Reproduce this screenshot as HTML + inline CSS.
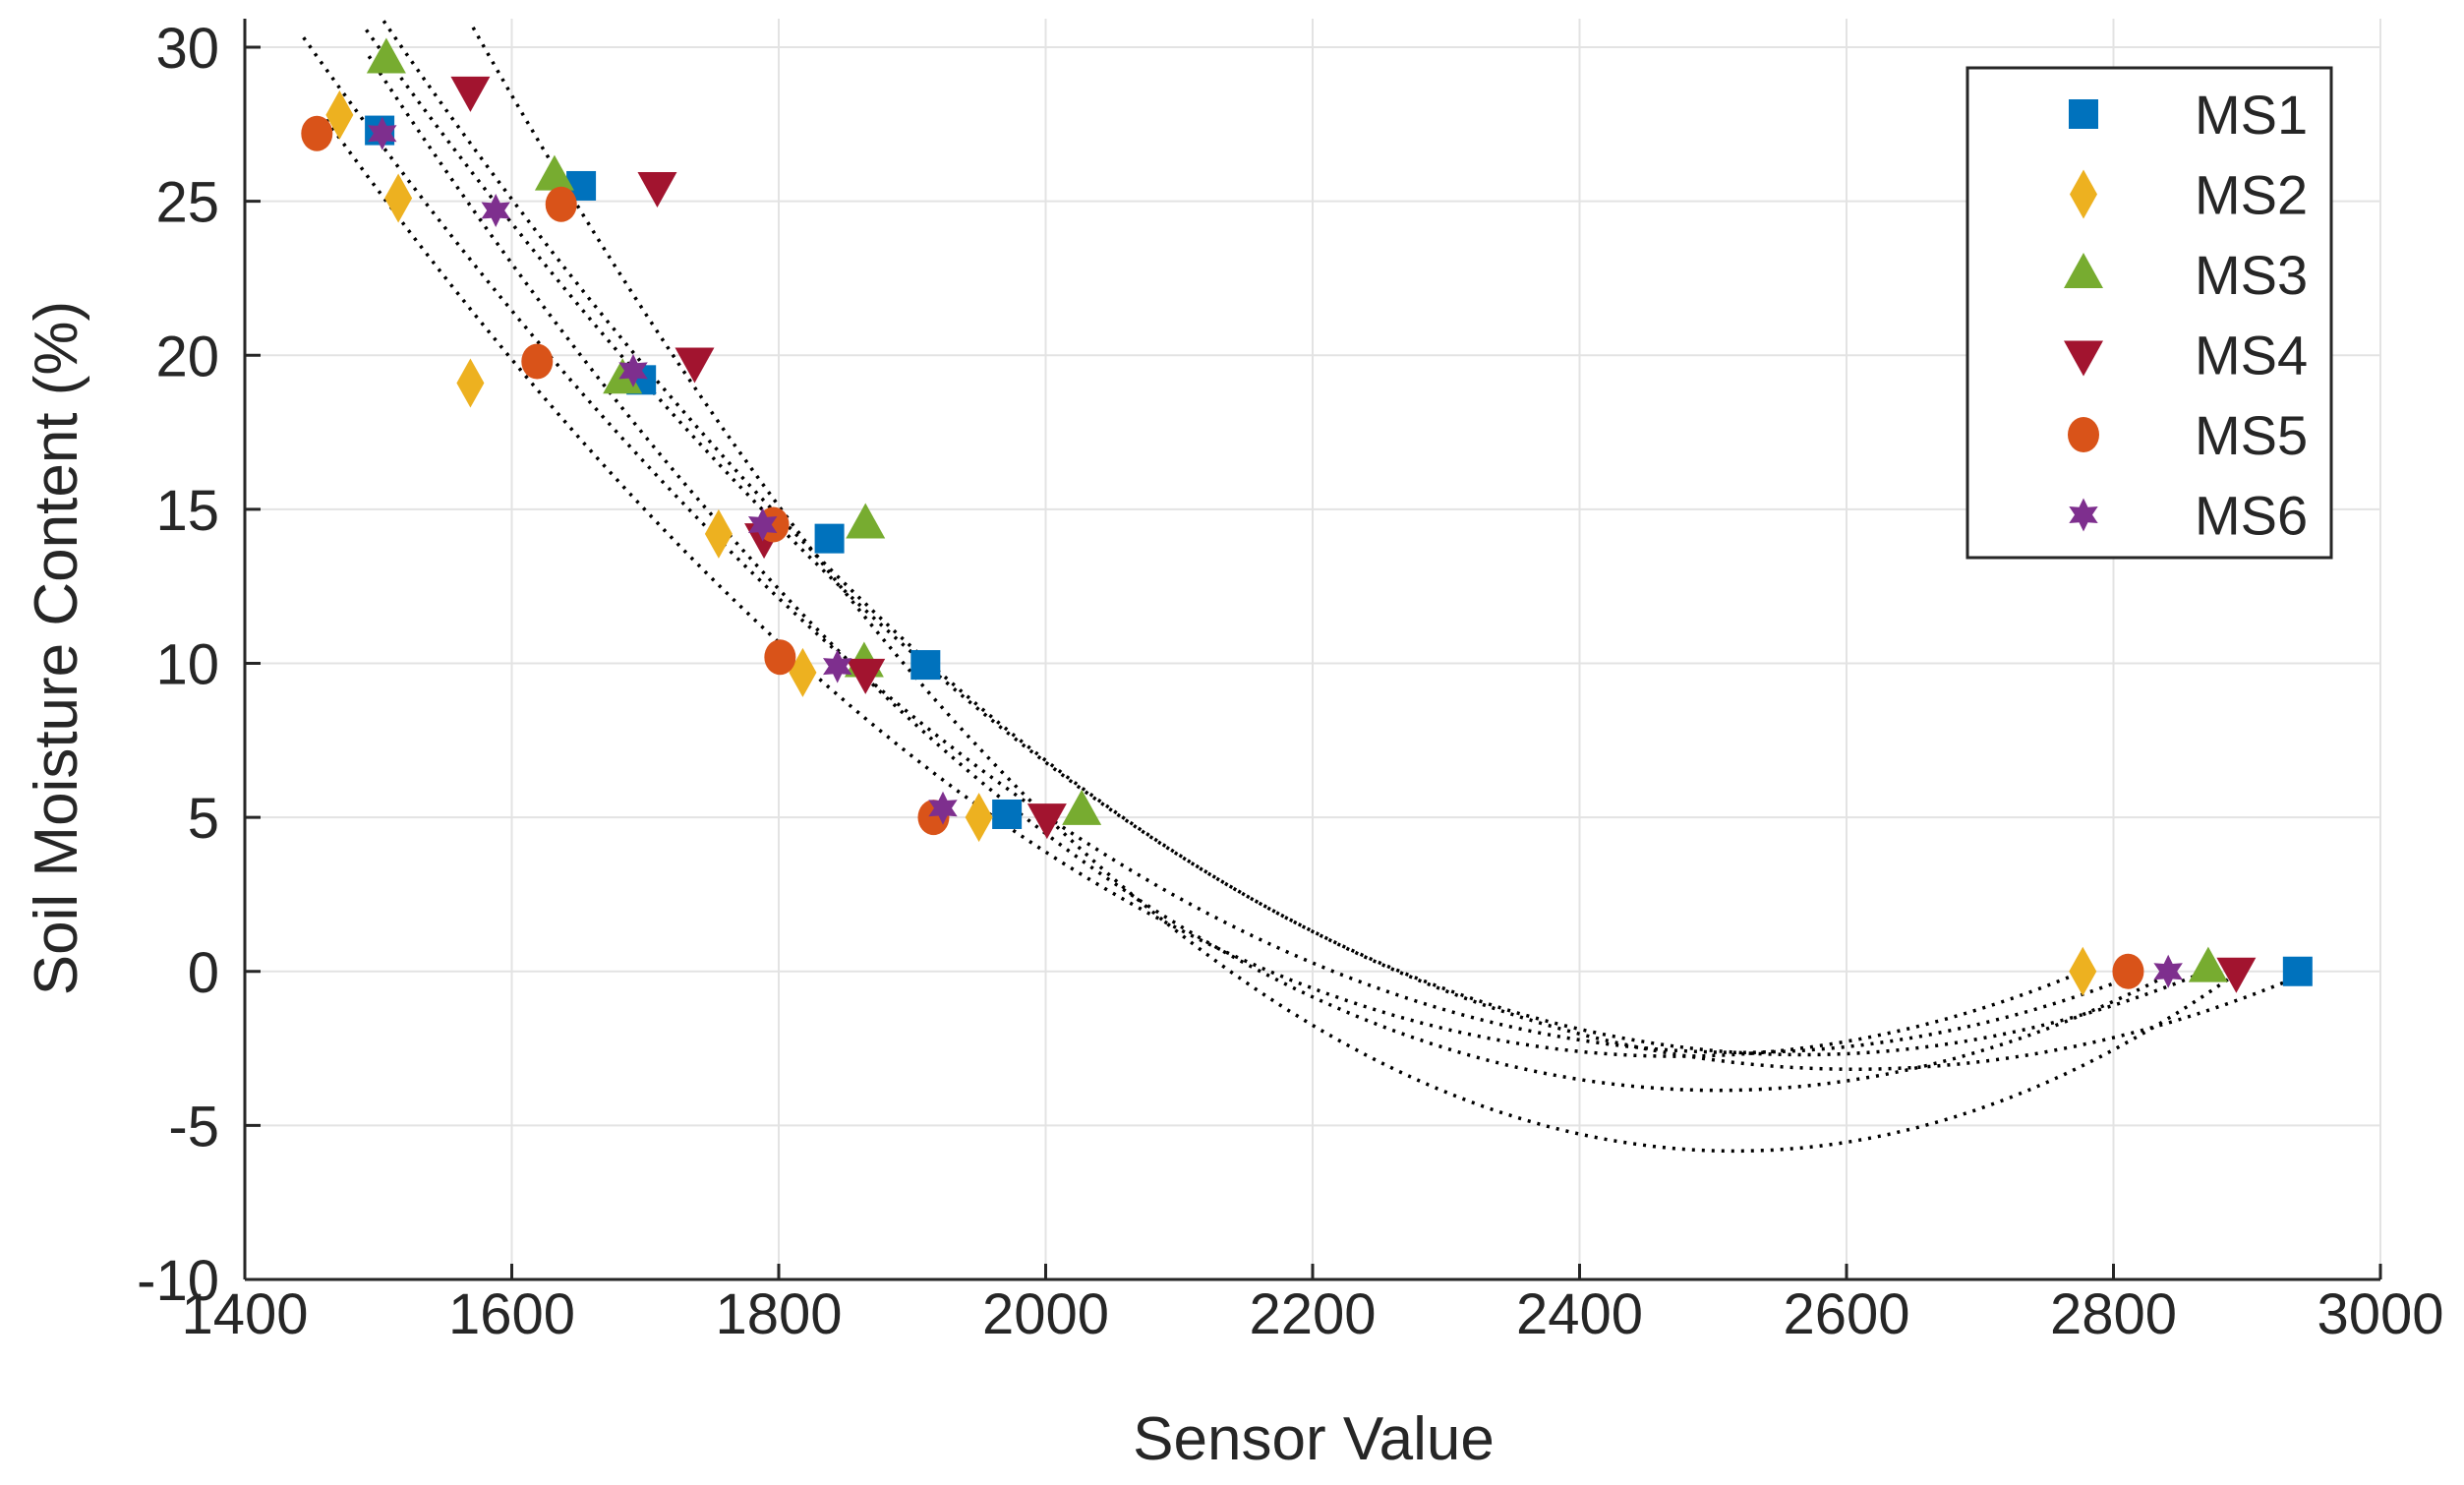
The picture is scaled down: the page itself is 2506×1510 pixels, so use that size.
<!DOCTYPE html>
<html><head><meta charset="utf-8">
<style>
html,body{margin:0;padding:0;background:#fff;}
svg{display:block;font-family:"Liberation Sans",sans-serif;}
</style></head>
<body>
<svg id="chart" width="2506" height="1510" viewBox="0 0 2506 1510" xmlns="http://www.w3.org/2000/svg">
<g id="grid"></g>
<g id="curves"></g>
<g id="marks"></g>
<g id="axes"></g>
<text x="1336" y="1484" font-size="62" fill="#262626" text-anchor="middle">Sensor Value</text>
<text transform="translate(78,659) rotate(-90)" font-size="62" fill="#262626" text-anchor="middle">Soil Moisture Content (%)</text>
<g id="legend"></g>
</svg>
<script>
const seriesNames = ["MS1","MS2","MS3","MS4","MS5","MS6"];
const ms1X = [1501,1652,1697,1838,1910,1971,2938];
const ms1Y = [27.3,25.5,19.2,14.05,9.95,5.1,0];
const ms2X = [1471,1515,1569,1755,1818,1950,2777];
const ms2Y = [27.8,25.1,19.1,14.2,9.7,5.0,0];
const ms3X = [1506,1632,1683,1865,1864,2027,2871];
const ms3Y = [29.6,25.8,19.2,14.5,10.0,5.2,0.1];
const ms4X = [1569,1709,1737,1789,1865,2001,2892];
const ms4Y = [28.6,25.5,19.8,14.1,9.7,5.0,0];
const ms5X = [1454,1637,1619,1796,1801,1916,2811];
const ms5Y = [27.2,24.9,19.8,14.5,10.2,5.0,0];
const ms6X = [1503,1588,1691,1788,1844,1923,2841];
const ms6Y = [27.2,24.7,19.5,14.5,9.9,5.3,0];
const xTicks = [1400,1600,1800,2000,2200,2400,2600,2800,3000];
const yTicks = [-10,-5,0,5,10,15,20,25,30];

const NS="http://www.w3.org/2000/svg";
const L=249,R=2421,T=19,B=1301;
const X0=1400,X1=3000,Y0=-10,Y1=30;
function sx(v){return L+(v-X0)/(X1-X0)*(R-L);}
function sy(v){return B-(v-Y0)/(Y1-Y0)*(1301-48);}
const yTop=30.9;
function mk(tag,attrs,parent){const e=document.createElementNS(NS,tag);for(const k in attrs)e.setAttribute(k,attrs[k]);parent.appendChild(e);return e;}

const grid=document.getElementById('grid'),axes=document.getElementById('axes');
xTicks.forEach(t=>{
  const g=mk('line',{x1:sx(t),x2:sx(t),y1:T,y2:B,stroke:'#e3e3e3','stroke-width':2},grid);
  
  
  const tk=mk('line',{x1:sx(t),x2:sx(t),y1:B,y2:B-16,stroke:'#262626','stroke-width':3},axes);
  
  
  const lb=mk('text',{x:sx(t),y:B+55,'font-size':58,fill:'#262626','text-anchor':'middle'},axes);
  lb.textContent=t;
  
  
});
yTicks.forEach(t=>{
  const g=mk('line',{x1:L,x2:R,y1:sy(t),y2:sy(t),stroke:'#e3e3e3','stroke-width':2},grid);
  
  
  const tk=mk('line',{x1:L,x2:L+16,y1:sy(t),y2:sy(t),stroke:'#262626','stroke-width':3},axes);
  
  
  const lb=mk('text',{x:L-26,y:sy(t)+21,'font-size':58,fill:'#262626','text-anchor':'end'},axes);
  lb.textContent=t;
  
  
});
const xa=mk('line',{x1:L,x2:R,y1:B,y2:B,stroke:'#262626','stroke-width':3},axes);


const ya=mk('line',{x1:L,x2:L,y1:T,y2:B,stroke:'#262626','stroke-width':3},axes);



const colors=["#0072BD","#EDB120","#77AC30","#A2142F","#D95319","#7E2F8E"];
const shapes=["square","diamond","up","down","circle","star"];
const XS=[ms1X,ms2X,ms3X,ms4X,ms5X,ms6X],YS=[ms1Y,ms2Y,ms3Y,ms4Y,ms5Y,ms6Y];

function marker(shape,cx,cy,color,parent){
  const s=15;let e;
  if(shape==='square')e=mk('rect',{x:cx-s,y:cy-s,width:2*s,height:2*s,fill:color},parent);
  else if(shape==='circle')e=mk('ellipse',{cx:cx,cy:cy,rx:s+1,ry:s+3,fill:color},parent);
  else if(shape==='diamond')e=mk('polygon',{points:`${cx},${cy-25} ${cx+14},${cy} ${cx},${cy+25} ${cx-14},${cy}`,fill:color},parent);
  else if(shape==='up')e=mk('polygon',{points:`${cx},${cy-22} ${cx+20},${cy+14} ${cx-20},${cy+14}`,fill:color},parent);
  else if(shape==='down')e=mk('polygon',{points:`${cx},${cy+22} ${cx+20},${cy-14} ${cx-20},${cy-14}`,fill:color},parent);
  else{let p=[];for(let i=0;i<12;i++){const r=i%2?9:17;const a=Math.PI/6*i-Math.PI/2;p.push((cx+r*Math.cos(a)).toFixed(1)+','+(cy+r*Math.sin(a)).toFixed(1));}
    e=mk('polygon',{points:p.join(' '),fill:color},parent);}
  return e;
}
function quadFit(xs,ys){
  let S=[0,0,0,0,0],T2=[0,0,0];const m=2200;
  xs.forEach((x0,i)=>{const x=(x0-m)/100;let p=1;for(let k=0;k<5;k++){S[k]+=p;if(k<3)T2[k]+=p*ys[i];p*=x;}});
  const A=[[S[0],S[1],S[2],T2[0]],[S[1],S[2],S[3],T2[1]],[S[2],S[3],S[4],T2[2]]];
  for(let i=0;i<3;i++){for(let j=i+1;j<3;j++){const f=A[j][i]/A[i][i];for(let k=i;k<4;k++)A[j][k]-=f*A[i][k];}}
  const c=[0,0,0];for(let i=2;i>=0;i--){let s=A[i][3];for(let k=i+1;k<3;k++)s-=A[i][k]*c[k];c[i]=s/A[i][i];}
  return x=>{const u=(x-m)/100;return c[0]+c[1]*u+c[2]*u*u;};
}
const curves=document.getElementById('curves'),marks=document.getElementById('marks');
XS.forEach((xs,si)=>{
  const f=quadFit(xs,YS[si]);
  const lo=Math.min(...xs)-10,hi=Math.max(...xs)+5;
  let d='',started=false;
  for(let x=lo;x<=hi;x+=4){const y=f(x);if(y>yTop){started=false;continue;}
    d+=(started?'L':'M')+sx(x).toFixed(1)+','+sy(y).toFixed(1);started=true;}
  const p=mk('path',{d:d,fill:'none',stroke:'#000','stroke-width':3.5,'stroke-dasharray':'3 7'},curves);
  
  
});
XS.forEach((xs,si)=>{
  xs.forEach((x,i)=>{
    const e=marker(shapes[si],sx(x),sy(YS[si][i]),colors[si],marks);
    
    
  });
});
const lg=document.getElementById('legend');
const box=mk('rect',{x:2001,y:69,width:370,height:498,fill:'#fff',stroke:'#262626','stroke-width':3},lg);


seriesNames.forEach((n,i)=>{
  const y=116+i*81.5;
  const m=marker(shapes[i],2119,y,colors[i],lg);
  
  
  const t=mk('text',{x:2232,y:y+20,'font-size':56,fill:'#262626'},lg);
  t.textContent=n;
  
  
});
</script>
</body></html>
